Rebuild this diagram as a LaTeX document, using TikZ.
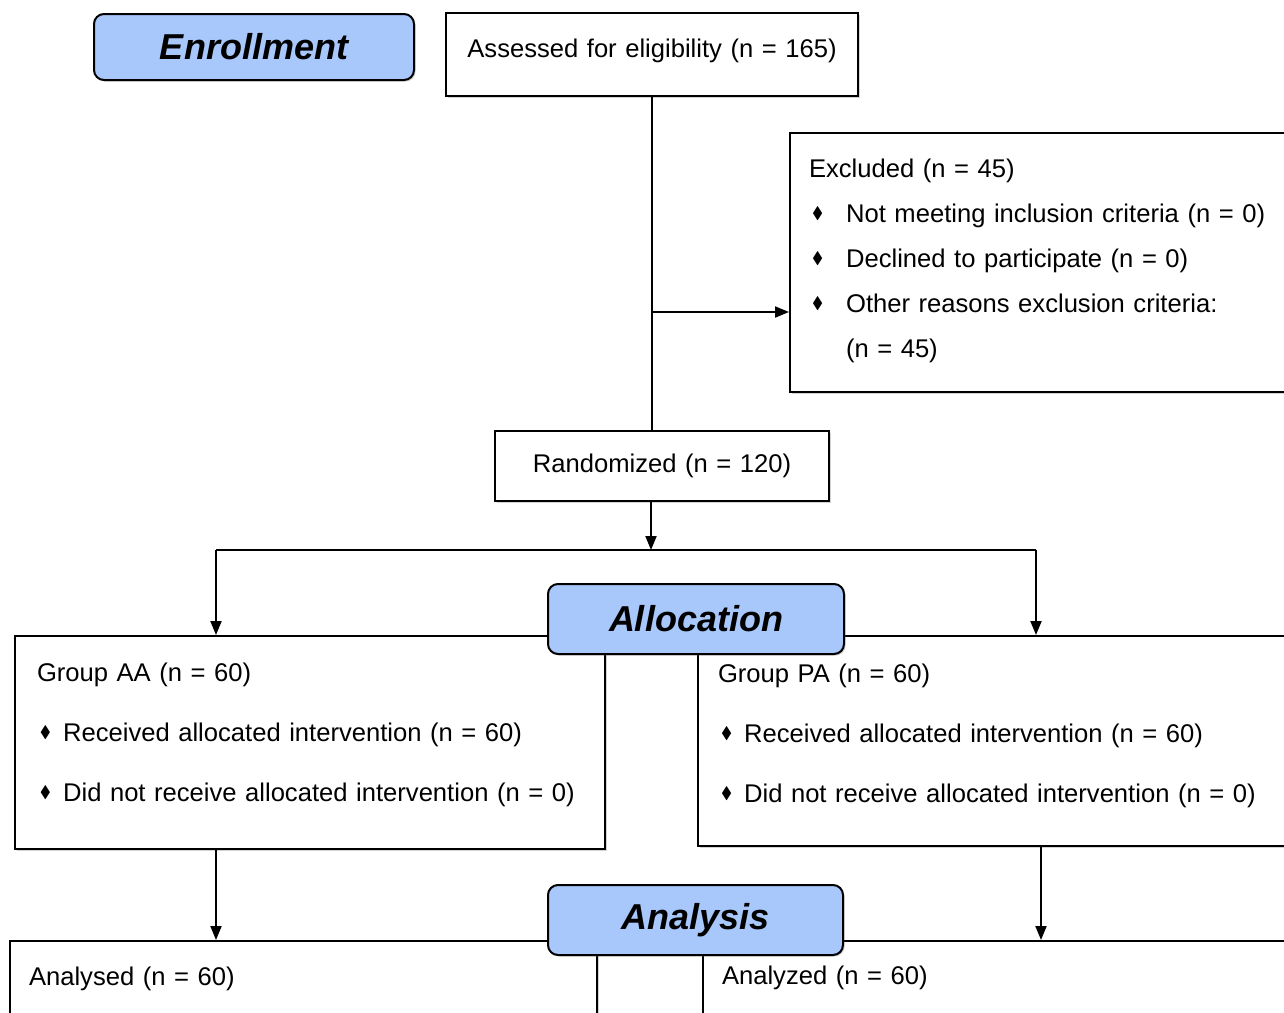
\documentclass[tikz,border=0pt]{standalone}
\usepackage{fontspec}
\setmainfont{Liberation Sans}
\usepackage{amssymb}
\usepackage{graphicx}
\usetikzlibrary{arrows.meta,shadows}
\definecolor{stageblue}{RGB}{168,199,250}
\newcommand{\itm}[1][6pt]{\hspace*{1.5pt}\raisebox{.15em}{\scalebox{.65}{$\blacklozenge$}}\hspace{#1}}
\newcommand{\lift}[1]{\rule[-#1]{0pt}{0pt}}
\begin{document}
\begin{tikzpicture}[x=0.5pt, y=-0.5pt,
  box/.style={draw, line width=1pt, fill=white, anchor=north west, inner ysep=0pt,
    font=\fontsize{12.8}{30}\selectfont,
    drop shadow={shadow xshift=.8pt, shadow yshift=-.8pt, opacity=.35}},
  stage/.style={box, rounded corners=5pt, fill=stageblue, align=center,
    font=\fontsize{18}{20}\selectfont\bfseries\itshape},
  link/.style={line width=1pt},
  arrow/.style={link, -{Triangle[length=7pt,width=5.5pt]}}]
\path[use as bounding box, clip] (0,0) rectangle (1284,1012);

\node[stage, minimum width=160pt, minimum height=33pt] (enroll) at (93,13) {Enrollment};
\node[box, inner xsep=8pt, text width=190pt, align=center, minimum height=41.5pt] (assess) at (445,12) {Assessed for eligibility (n = 165)\lift{6pt}};
\node[box, inner xsep=9.5pt, text width=236.5pt, align=left, minimum height=129.5pt,
  font=\fontsize{12.8}{22.5}\selectfont] (excl) at (789,132) {Excluded (n = 45)\\
  \itm[11.5pt]Not meeting inclusion criteria (n = 0)\\
  \itm[11.5pt]Declined to participate (n = 0)\\
  \itm[11.5pt]Other reasons exclusion criteria:\\
  \hspace*{18.5pt}(n = 45)\lift{4pt}};
\node[box, inner xsep=8pt, text width=151pt, align=center, minimum height=35pt] (rand) at (494,430) {Randomized (n = 120)};

\node[box, inner xsep=11pt, text width=273pt, align=left, minimum height=106.5pt] (aa) at (14,635) {Group AA (n = 60)\\
  \itm Received allocated intervention (n = 60)\\
  \itm Did not receive allocated intervention (n = 0)\lift{10pt}};
\node[box, inner xsep=10pt, text width=281.5pt, align=left, minimum height=105pt] (pa) at (697,635) {Group PA (n = 60)\\
  \itm Received allocated intervention (n = 60)\\
  \itm Did not receive allocated intervention (n = 0)\lift{8pt}};
\node[stage, minimum width=148pt, minimum height=35pt] (alloc) at (547,583) {Allocation};

\node[box, inner xsep=9.5pt, text width=274.5pt, align=left, minimum height=38pt] (anl) at (9,940) {Analysed (n = 60)};
\node[box, inner xsep=9.5pt, text width=280pt, align=left, minimum height=38pt] (anr) at (702,940) {Analyzed (n = 60)\lift{4pt}};
\node[stage, minimum width=147.5pt, minimum height=35pt] (analysis) at (547,884) {Analysis};

\coordinate (split) at (651,312);
\coordinate (fork) at (651,550);
\coordinate (forkL) at (216,550);
\coordinate (forkR) at (1036,550);
\coordinate (dropR) at (1041,845);

\draw[link] (assess.south) -- (assess.south |- rand.north);
\draw[arrow] (split) -- (split -| excl.west);
\draw[arrow] (rand.south -| fork) -- (fork);
\draw[link] (forkL) -- (forkR);
\draw[arrow] (forkL) -- (forkL |- aa.north);
\draw[arrow] (forkR) -- (forkR |- pa.north);
\draw[arrow] (forkL |- aa.south) -- (forkL |- anl.north);
\draw[arrow] (dropR |- pa.south) -- (dropR |- anr.north);
\end{tikzpicture}
\end{document}
